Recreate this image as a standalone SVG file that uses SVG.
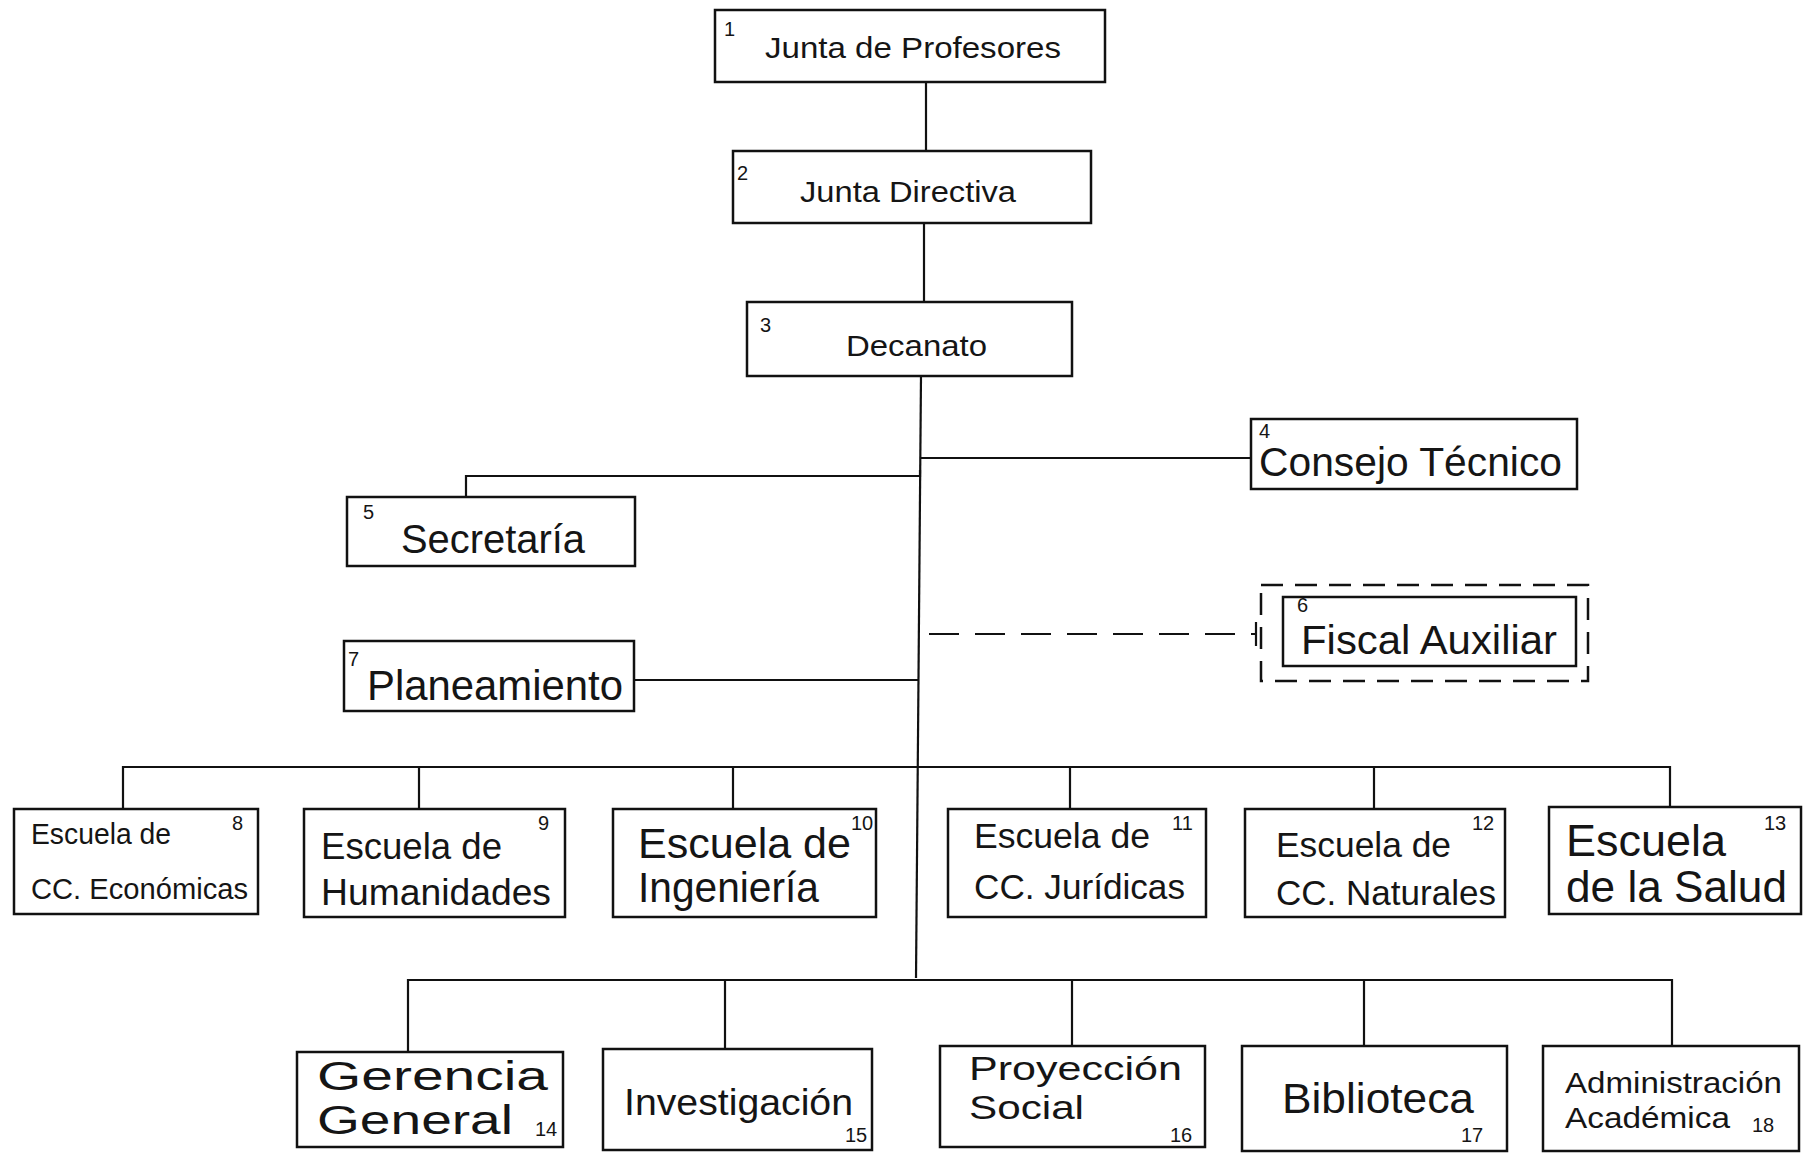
<svg xmlns="http://www.w3.org/2000/svg" width="1808" height="1153" viewBox="0 0 1808 1153">
  <style>
    .box { fill: #ffffff; stroke: #111; stroke-width: 2.5; }
    .dbox { fill: none; stroke: #111; stroke-width: 2.5; stroke-dasharray: 22 12; }
    .ln { fill: none; stroke: #111; stroke-width: 2.2; }
    .dln { fill: none; stroke: #111; stroke-width: 2.2; stroke-dasharray: 30 16; }
    text { font-family: "Liberation Sans", Arial, sans-serif; fill: #151515; }
    .num { font-size: 20px; }
  </style>
  <rect width="1808" height="1153" fill="#ffffff"/>

  <!-- connectors -->
  <g id="connectors">
    <line class="ln" x1="926" y1="82" x2="926" y2="151"/>
    <line class="ln" x1="924" y1="223" x2="924" y2="302"/>
    <path class="ln" d="M921 376 L916 978"/>
    <line class="ln" x1="921" y1="458" x2="1251" y2="458"/>
    <path class="ln" d="M920 470 L920 476 L466 476 L466 497"/>
    <line class="ln" x1="634" y1="680" x2="918" y2="680"/>
    <line class="dln" x1="929" y1="634" x2="1255" y2="634"/>
    <line class="ln" x1="1256" y1="622" x2="1256" y2="646"/>
    <!-- schools bus -->
    <path class="ln" d="M123 809 L123 767 L1670 767 L1670 807"/>
    <line class="ln" x1="419" y1="767" x2="419" y2="809"/>
    <line class="ln" x1="733" y1="767" x2="733" y2="809"/>
    <line class="ln" x1="1070" y1="767" x2="1070" y2="809"/>
    <line class="ln" x1="1374" y1="767" x2="1374" y2="809"/>
    <!-- services bus -->
    <path class="ln" d="M408 1052 L408 980 L1672 980 L1672 1046"/>
    <line class="ln" x1="725" y1="980" x2="725" y2="1049"/>
    <line class="ln" x1="1072" y1="980" x2="1072" y2="1046"/>
    <line class="ln" x1="1364" y1="980" x2="1364" y2="1046"/>
  </g>

  <g id="n1">
    <rect class="box" x="715" y="10" width="390" height="72"/>
    <text class="num" x="724" y="36" font-size="18">1</text>
    <text x="765" y="58" font-size="30" textLength="296" lengthAdjust="spacingAndGlyphs">Junta de Profesores</text>
  </g>
  <g id="n2">
    <rect class="box" x="733" y="151" width="358" height="72"/>
    <text class="num" x="737" y="180" font-size="22">2</text>
    <text x="800" y="202" font-size="29" textLength="216" lengthAdjust="spacingAndGlyphs">Junta Directiva</text>
  </g>
  <g id="n3">
    <rect class="box" x="747" y="302" width="325" height="74"/>
    <text class="num" x="760" y="332" font-size="22">3</text>
    <text x="846" y="356" font-size="30" textLength="141" lengthAdjust="spacingAndGlyphs">Decanato</text>
  </g>
  <g id="n4">
    <rect class="box" x="1251" y="419" width="326" height="70"/>
    <text class="num" x="1259" y="438" font-size="16">4</text>
    <text x="1259" y="476" font-size="41" textLength="303" lengthAdjust="spacingAndGlyphs">Consejo Técnico</text>
  </g>
  <g id="n5">
    <rect class="box" x="347" y="497" width="288" height="69"/>
    <text class="num" x="363" y="519">5</text>
    <text x="401" y="553" font-size="40" textLength="184" lengthAdjust="spacingAndGlyphs">Secretaría</text>
  </g>
  <g id="n6">
    <rect class="dbox" x="1261" y="585" width="327" height="96"/>
    <rect class="box" x="1283" y="597" width="293" height="69"/>
    <text class="num" x="1297" y="612" font-size="16">6</text>
    <text x="1301" y="654" font-size="41" textLength="256" lengthAdjust="spacingAndGlyphs">Fiscal Auxiliar</text>
  </g>
  <g id="n7">
    <rect class="box" x="344" y="641" width="290" height="70"/>
    <text class="num" x="348" y="666">7</text>
    <text x="367" y="700" font-size="42" textLength="256" lengthAdjust="spacingAndGlyphs">Planeamiento</text>
  </g>

  <g id="n8">
    <rect class="box" x="14" y="809" width="244" height="105"/>
    <text class="num" x="232" y="830">8</text>
    <text x="31" y="844" font-size="29" textLength="140" lengthAdjust="spacingAndGlyphs">Escuela de</text>
    <text x="31" y="899" font-size="29" textLength="217" lengthAdjust="spacingAndGlyphs">CC. Económicas</text>
  </g>
  <g id="n9">
    <rect class="box" x="304" y="809" width="261" height="108"/>
    <text class="num" x="538" y="830">9</text>
    <text x="321" y="859" font-size="36" textLength="181" lengthAdjust="spacingAndGlyphs">Escuela de</text>
    <text x="321" y="905" font-size="36" textLength="230" lengthAdjust="spacingAndGlyphs">Humanidades</text>
  </g>
  <g id="n10">
    <rect class="box" x="613" y="809" width="263" height="108"/>
    <text class="num" x="851" y="830">10</text>
    <text x="638" y="858" font-size="42" textLength="213" lengthAdjust="spacingAndGlyphs">Escuela de</text>
    <text x="638" y="902" font-size="42" textLength="181" lengthAdjust="spacingAndGlyphs">Ingeniería</text>
  </g>
  <g id="n11">
    <rect class="box" x="948" y="809" width="258" height="108"/>
    <text class="num" x="1172" y="830">11</text>
    <text x="974" y="848" font-size="35" textLength="176" lengthAdjust="spacingAndGlyphs">Escuela de</text>
    <text x="974" y="899" font-size="35" textLength="211" lengthAdjust="spacingAndGlyphs">CC. Jurídicas</text>
  </g>
  <g id="n12">
    <rect class="box" x="1245" y="809" width="260" height="108"/>
    <text class="num" x="1472" y="830">12</text>
    <text x="1276" y="857" font-size="35" textLength="175" lengthAdjust="spacingAndGlyphs">Escuela de</text>
    <text x="1276" y="905" font-size="35" textLength="220" lengthAdjust="spacingAndGlyphs">CC. Naturales</text>
  </g>
  <g id="n13">
    <rect class="box" x="1549" y="807" width="252" height="107"/>
    <text class="num" x="1764" y="830">13</text>
    <text x="1566" y="856" font-size="44" textLength="160" lengthAdjust="spacingAndGlyphs">Escuela</text>
    <text x="1566" y="902" font-size="44" textLength="221" lengthAdjust="spacingAndGlyphs">de la Salud</text>
  </g>

  <g id="n14">
    <rect class="box" x="297" y="1052" width="266" height="95"/>
    <text x="317" y="1090" font-size="40" textLength="231" lengthAdjust="spacingAndGlyphs">Gerencia</text>
    <text x="317" y="1134" font-size="40" textLength="196" lengthAdjust="spacingAndGlyphs">General</text>
    <text class="num" x="535" y="1136">14</text>
  </g>
  <g id="n15">
    <rect class="box" x="603" y="1049" width="269" height="101"/>
    <text x="624" y="1115" font-size="37" textLength="229" lengthAdjust="spacingAndGlyphs">Investigación</text>
    <text class="num" x="845" y="1142">15</text>
  </g>
  <g id="n16">
    <rect class="box" x="940" y="1046" width="265" height="101"/>
    <text x="969" y="1080" font-size="34" textLength="213" lengthAdjust="spacingAndGlyphs">Proyección</text>
    <text x="969" y="1119" font-size="34" textLength="115" lengthAdjust="spacingAndGlyphs">Social</text>
    <text class="num" x="1170" y="1142">16</text>
  </g>
  <g id="n17">
    <rect class="box" x="1242" y="1046" width="265" height="105"/>
    <text x="1282" y="1113" font-size="43" textLength="192" lengthAdjust="spacingAndGlyphs">Biblioteca</text>
    <text class="num" x="1461" y="1142">17</text>
  </g>
  <g id="n18">
    <rect class="box" x="1543" y="1046" width="256" height="105"/>
    <text x="1565" y="1093" font-size="30" textLength="217" lengthAdjust="spacingAndGlyphs">Administración</text>
    <text x="1565" y="1128" font-size="30" textLength="165" lengthAdjust="spacingAndGlyphs">Académica</text>
    <text class="num" x="1752" y="1132" font-size="22">18</text>
  </g>
</svg>
